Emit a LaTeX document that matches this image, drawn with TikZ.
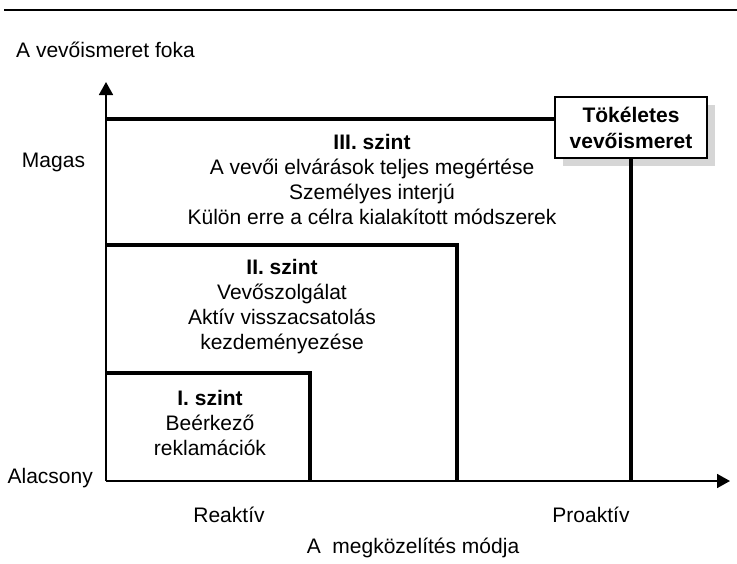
\documentclass[tikz,border=0pt]{standalone}
\usepackage{fontspec}
\setmainfont{Liberation Sans}
\usetikzlibrary{arrows.meta,shadows}

\tikzset{
  level/.style={line width=3.5pt},
  axis/.style={line width=1.8pt,-{Triangle[length=13pt,width=14pt]}},
  lbl/.style={inner sep=0pt,align=center,font=\fontsize{21}{25}\selectfont},
  goalbox/.style={draw,line width=2pt,fill=white,inner sep=0pt,
    minimum width=152pt,minimum height=61pt,align=center,
    font=\fontsize{21}{26}\selectfont\bfseries,
    drop shadow={shadow xshift=8pt,shadow yshift=-8pt,fill=black!16,opacity=1}}
}

\begin{document}
\begin{tikzpicture}[x=1pt,y=-1pt]
\useasboundingbox (0,0) rectangle (737,563);

\coordinate (ruleL) at (4,10);
\coordinate (ruleR) at (737,10);
\path[draw,line width=1.5pt] (ruleL)--(ruleR);

\coordinate (O) at (106,481);
\coordinate (ytip) at (106,82);
\coordinate (xtip) at (730,481);
\path[draw,axis] (O)--(ytip);
\path[draw,axis] (O)--(xtip);

\node[goalbox] (goal) at (631,127.5) {Tökéletes\\vevőismeret};

\coordinate (top1) at (106,373);
\coordinate (right1) at (310,481);
\coordinate (top2) at (106,245);
\coordinate (right2) at (457,481);
\coordinate (top3) at (106,119);

\path[draw,level] (top1)-|(right1);
\path[draw,level] (top2)-|(right2);
\path[draw,level] (top3)--(top3-|goal.west);
\path[draw,level] (goal.south)--(goal.south|-O);

\node[lbl] (lvl3) at (372,179)
  {{\bfseries III. szint}\\A vevői elvárások teljes megértése\\
   Személyes interjú\\Külön erre a célra kialakított módszerek};
\node[lbl] (lvl2) at (282,306.5)
  {{\bfseries II. szint}\\Vevőszolgálat\\Aktív visszacsatolás\\kezdeményezése};
\node[lbl] (lvl1) at (210,423)
  {{\bfseries I. szint}\\Beérkező\\reklamációk};

\node[lbl,anchor=west] (yname) at (16,50) {A vevőismeret foka};
\node[lbl] (high) at (53.5,162) {Magas};
\node[lbl,anchor=east] (low) at (93,478) {Alacsony};
\node[lbl] (react) at (229,515) {Reaktív};
\node[lbl] (proact) at (591,515) {Proaktív};
\node[lbl] (xname) at (413,548) {A\ \ megközelítés módja};

\end{tikzpicture}
\end{document}
